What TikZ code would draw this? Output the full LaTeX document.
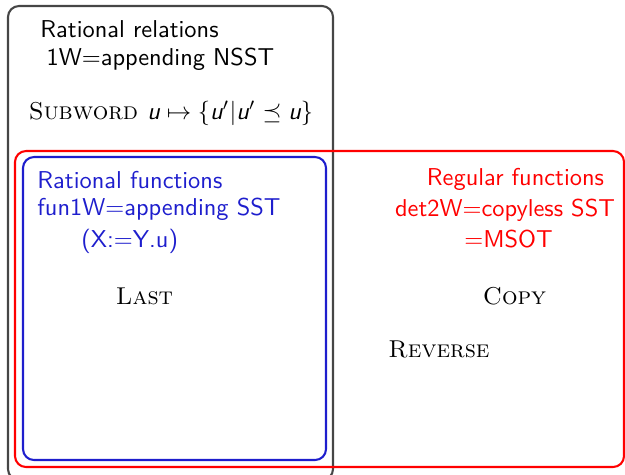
\documentclass[tikz,border=0pt]{standalone}
\usepackage{amssymb}
\newcommand{\svar}{\mbox{\sffamily\itshape u}}
\begin{document}
\begin{tikzpicture}[x=0.41pt,y=-0.41pt,
  boxline/.style={line width=0.85pt, rounded corners=4.5pt},
  lbl/.style={font=\sffamily, inner sep=0pt},
  sc/.style={font=\scshape, inner sep=0pt}]
\useasboundingbox (0,0) rectangle (625,474);
\definecolor{boxgray}{RGB}{70,70,70}
\definecolor{boxblue}{RGB}{30,30,205}
% boxes
\draw[boxline, boxgray] (8,6) rectangle (333,480);
\draw[boxline, red] (15,151) rectangle (624,467);
\draw[boxline, boxblue] (23,157) rectangle (326,460);
% rational relations
\node[lbl, anchor=north west, align=left] (rr) at (40,20) {Rational relations\\[-0.5pt]\hspace*{2.5pt}1W$=$appending NSST};
\node[sc] (sub) at (171,113) {Subword $\svar\mapsto\{\svar'|\svar'\mathrel{\preceq}\svar\}$};
% rational functions
\node[lbl, anchor=north west, align=left, text=boxblue] (rf) at (37,171) {Rational functions\\[-1pt]fun1W$=$appending SST\\[1pt]\hspace*{18pt}(X:$=$Y.u)};
\node[sc] (last) at (144.5,296) {Last};
% regular functions
\node[lbl, anchor=north, align=center, text=red] (regf) at (505,168) {\hspace*{8.6pt}Regular functions\\[0.6pt]det2W$=$copyless SST\\[0.6pt]\hspace*{2.9pt}$=$MSOT};
\node[sc] (copy) at (514.5,296) {Copy};
\node[sc] (rev) at (439,349) {Reverse};
\end{tikzpicture}
\end{document}
